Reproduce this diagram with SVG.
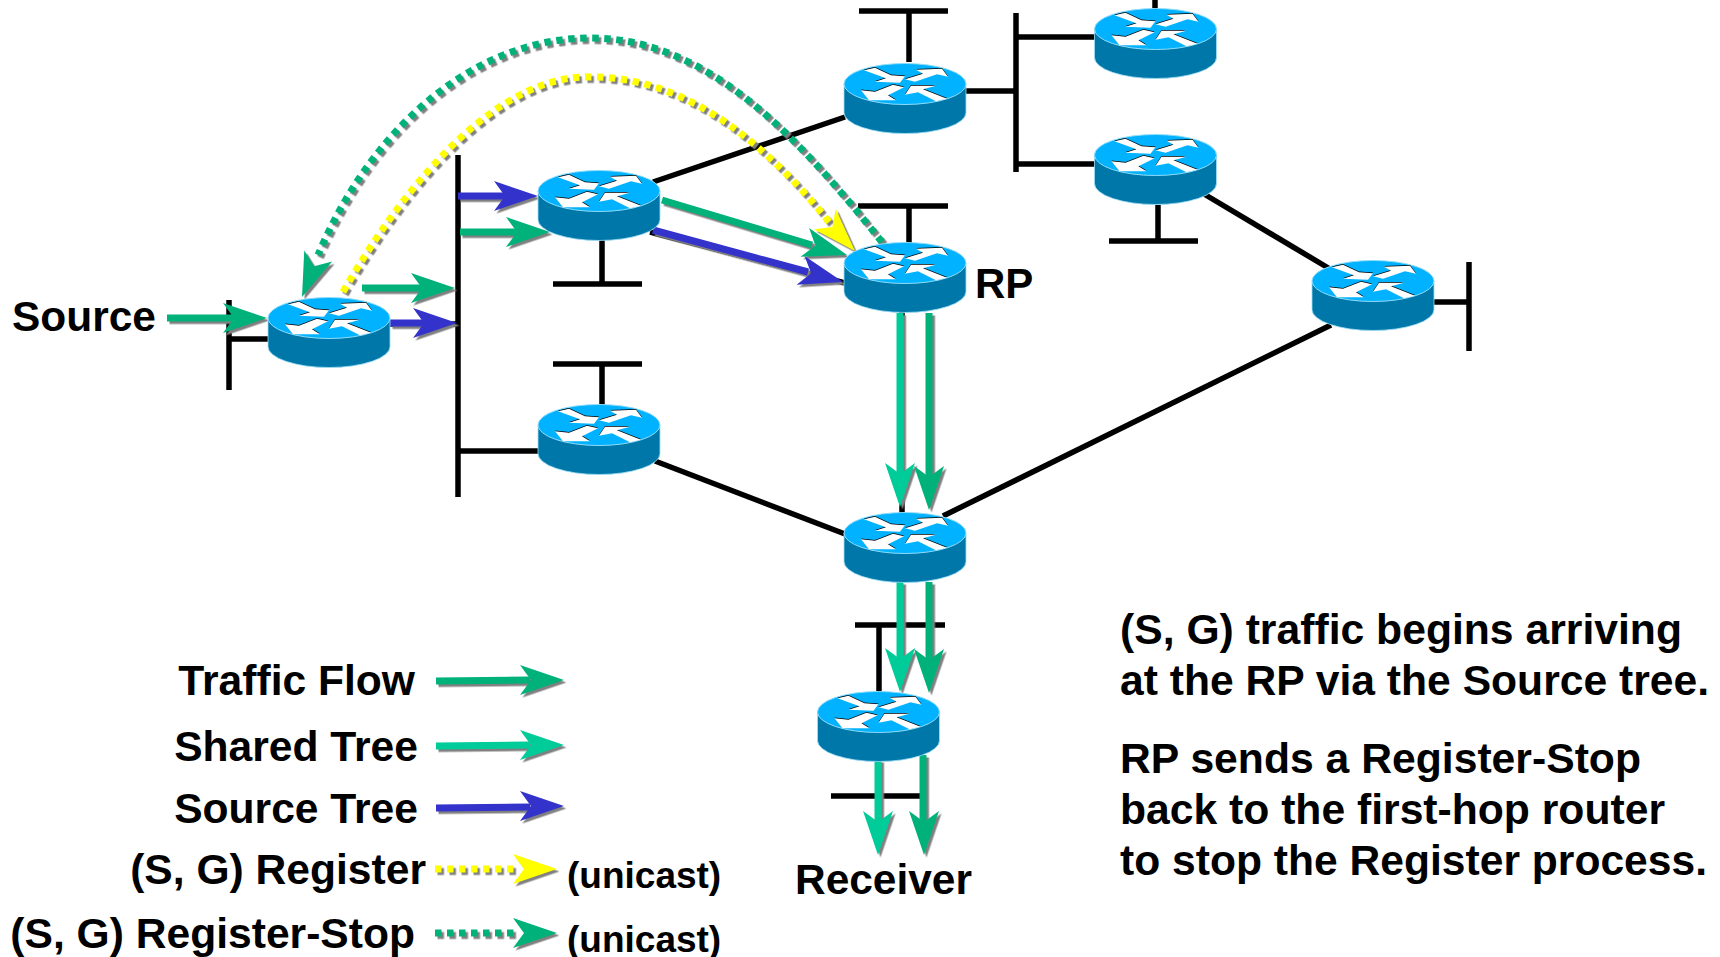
<svg xmlns="http://www.w3.org/2000/svg" width="1720" height="957" viewBox="0 0 1720 957">
<style>
.w{stroke:#000;stroke-width:5.5;fill:none}
.ar path{fill:none;stroke-width:7}
.tf{color:#00B27A}.sh{color:#00CC99}.sr{color:#3333CC}.ye{color:#FFFF00}
.ar path{stroke:currentColor}.ar use{fill:currentColor}
.d path{stroke-dasharray:6.5 5.5}
text{font-family:"Liberation Sans",Arial,sans-serif;font-weight:700;font-size:43px;fill:#000}
.e{text-anchor:end;font-size:42.6px}
.u{font-size:37px}
</style>
<defs>
<filter id="sd" x="-30%" y="-30%" width="160%" height="160%" color-interpolation-filters="sRGB"><feDropShadow dx="2.5" dy="2.5" stdDeviation="0" flood-color="#808080"/></filter>
<polygon id="h" points="0,0 -44,-15 -33,0 -44,15"/>
<g id="ic">
<polygon points="-41,-14 -30,-16.5 -14,-9 0,-8 -5,-1.5 -30,-2.5 -19,-6"/>
<polygon points="0,-5 18,-10.5 11,-14.5 37,-15.5 43,-7.5 32,-10 10,-2.5"/>
<polygon points="-44,6 -30,7.5 -12,.5 -1,3 -17,11 -9,16 -36,16"/>
<polygon points="0,10.5 6,1.5 31,1.5 18,5 42,14.5 31,17 13,8"/>
</g>
<g id="router">
<path d="M-61,0V28.5A61,21 0 0 0 61,28.5V0Z" fill="#0077A9" stroke="#9fe0f8" stroke-width=".8"/>
<ellipse rx="61" ry="20.5" fill="#00B2FF" stroke="#8fdcf8" stroke-width="1"/>
<use href="#ic" fill="#000" transform="translate(0,-.6)"/>
<use href="#ic" fill="#fff" transform="translate(0,.2)"/>
</g>
</defs>
<g id="connectors">
<g class="w">
<path d="M229,300V390M229,339H268"/>
<path d="M458,155V497"/>
<path d="M602,238V284M553,284H642"/>
<path d="M553,364H642M602,364V410"/>
<path d="M458,451H540"/>
<path d="M655,461L845,534"/>
<path d="M943,516L1331,325"/>
<path d="M653,182L845,117"/>
<path d="M859,11H948M909,11V62"/>
<path d="M966,91H1016M1016,13V172M1016,37H1095M1016,164H1095"/>
<path d="M1155,0V9"/>
<path d="M1158,205V242M1109,241H1198"/>
<path d="M1204,194L1330,269"/>
<path d="M1469,262V351M1433,302H1469"/>
<path d="M858,206H948M909,206V243"/>
<path d="M855,625H945M879,625V692"/>
<path d="M831,796H920M878,760V796"/>
<path d="M650,232L845,283"/>
<path d="M390,324H458"/>
<path d="M902,310V515"/>
</g>
<g class="ar d ye" filter="url(#sd)"><path d="M343,292C410,175 500,77 587,77C675,75 755,130 830,223"/></g>
<g class="ar d tf" filter="url(#sd)"><path d="M882,242C800,140 710,38 590,38C480,38 375,120 318,255"/></g>
<g class="ar tf" filter="url(#sd)"><path d="M167,318H234"/><use href="#h" transform="translate(267,318)"/></g>
<g class="ar tf" filter="url(#sd)"><path d="M362,288H422"/><use href="#h" transform="translate(455,288)"/></g>
<g class="ar sr" filter="url(#sd)"><path d="M390,323H424"/><use href="#h" transform="translate(457,323)"/></g>
<g class="ar sr" filter="url(#sd)"><path d="M458,196H505"/><use href="#h" transform="translate(538,196)"/></g>
<g class="ar tf" filter="url(#sd)"><path d="M460,232H517"/><use href="#h" transform="translate(550,232)"/></g>
<g class="ar tf" filter="url(#sd)"><path d="M662,200L812,245"/><use href="#h" transform="translate(847,255) rotate(16.6)"/></g>
<g class="ar sr" filter="url(#sd)"><path d="M653,230L808,272"/><use href="#h" transform="translate(843,282) rotate(15.3)"/></g>
<g class="ar ye" filter="url(#sd)"><use href="#h" transform="translate(855,251) rotate(46.7)"/></g>
<g class="ar tf" filter="url(#sd)"><use href="#h" transform="translate(302,297) rotate(111.6)"/></g>
<g class="ar sh" filter="url(#sd)"><path d="M900,313V474"/><use href="#h" transform="translate(900,507) rotate(90)"/></g>
<g class="ar tf" filter="url(#sd)"><path d="M929,313V477"/><use href="#h" transform="translate(929,510) rotate(90)"/></g>
<g class="ar sh" filter="url(#sd)"><path d="M900,582V659"/><use href="#h" transform="translate(900,692) rotate(90)"/></g>
<g class="ar tf" filter="url(#sd)"><path d="M929,582V660"/><use href="#h" transform="translate(929,693) rotate(90)"/></g>
<g class="ar sh" filter="url(#sd)"><path d="M878,760V822"/><use href="#h" transform="translate(878,855) rotate(90)"/></g>
<g class="ar tf" filter="url(#sd)"><path d="M923,755V822"/><use href="#h" transform="translate(924,855) rotate(90)"/></g>
<g class="ar tf" filter="url(#sd)"><path d="M436,681L530,680"/><use href="#h" transform="translate(564,680)"/></g>
<g class="ar sh" filter="url(#sd)"><path d="M436,746L530,745"/><use href="#h" transform="translate(564,745)"/></g>
<g class="ar sr" filter="url(#sd)"><path d="M436,808L530,807"/><use href="#h" transform="translate(564,806)"/></g>
<g class="ar d ye" filter="url(#sd)"><path d="M435,869H518"/><use href="#h" transform="translate(557,869)"/></g>
<g class="ar d tf" filter="url(#sd)"><path d="M435,933H518"/><use href="#h" transform="translate(557,933)"/></g>
</g>
<g id="r1"><use href="#router" x="329" y="318"/></g>
<g id="r2"><use href="#router" x="599" y="191"/></g>
<g id="rp"><use href="#router" x="905" y="263"/></g>
<g id="r4"><use href="#router" x="905" y="84"/></g>
<g id="r5"><use href="#router" x="1155.500" y="29"/></g>
<g id="r6"><use href="#router" x="1155.500" y="155"/></g>
<g id="r7"><use href="#router" x="1373" y="281"/></g>
<g id="r8"><use href="#router" x="599" y="425"/></g>
<g id="r9"><use href="#router" x="905" y="533"/></g>
<g id="r10"><use href="#router" x="878.500" y="712"/></g>
<g id="labels">
<text x="12" y="331" textLength="144" lengthAdjust="spacingAndGlyphs">Source</text>
<text x="975" y="298" style="font-size:42px">RP</text>
<text x="795" y="894" textLength="177" lengthAdjust="spacingAndGlyphs">Receiver</text>
<text x="415" y="695" class="e">Traffic Flow</text>
<text x="418" y="761" class="e">Shared Tree</text>
<text x="418" y="823" class="e">Source Tree</text>
<text x="426" y="884" class="e">(S, G) Register</text>
<text x="415" y="948" class="e">(S, G) Register-Stop</text>
<text x="567" y="888" class="u">(unicast)</text>
<text x="567" y="952" class="u">(unicast)</text>
<text x="1120" y="644" textLength="562" lengthAdjust="spacingAndGlyphs">(S, G) traffic begins arriving</text>
<text x="1120" y="695" textLength="589" lengthAdjust="spacingAndGlyphs">at the RP via the Source tree.</text>
<text x="1120" y="773" textLength="521" lengthAdjust="spacingAndGlyphs">RP sends a Register-Stop</text>
<text x="1120" y="824" textLength="545" lengthAdjust="spacingAndGlyphs">back to the first-hop router</text>
<text x="1120" y="875" textLength="587" lengthAdjust="spacingAndGlyphs">to stop the Register process.</text>
</g>
</svg>
